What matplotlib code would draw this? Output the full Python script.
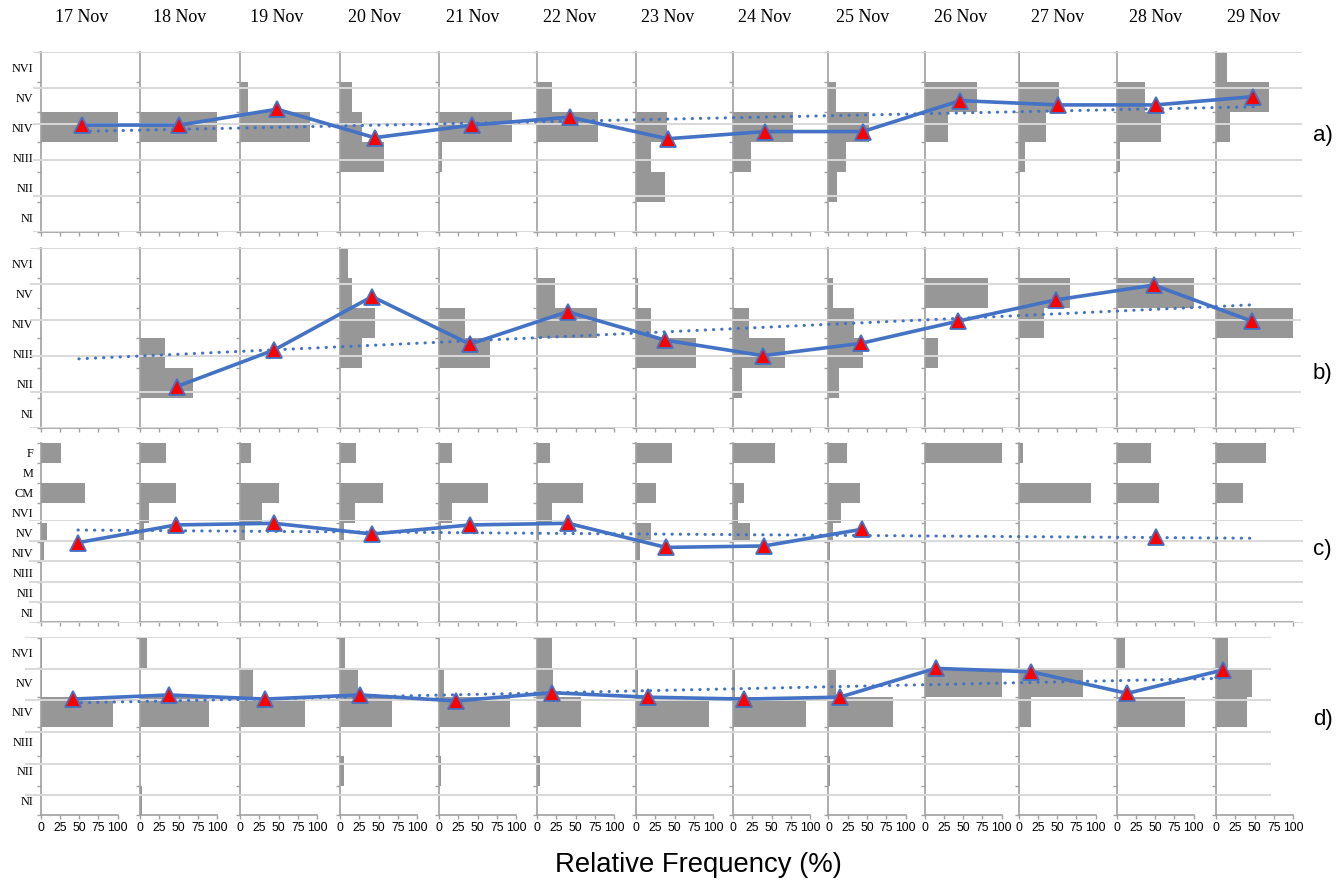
import matplotlib.pyplot as plt
import numpy as np

W, H = 1344, 883

days = ["17 Nov", "18 Nov", "19 Nov", "20 Nov", "21 Nov", "22 Nov", "23 Nov",
        "24 Nov", "25 Nov", "26 Nov", "27 Nov", "28 Nov", "29 Nov"]

# classes listed top to bottom as they appear on the y axis
levels = ["NVI", "NV", "NIV", "NIII", "NII", "NI"]
levels_c = ["F", "M", "CM", "NVI", "NV", "NIV", "NIII", "NII", "NI"]

# relative frequency (%) of each class, one list per day
freq_a = [
    [0, 0, 100, 0, 0, 0],
    [0, 0, 100, 0, 0, 0],
    [0, 10, 90, 0, 0, 0],
    [0, 16, 28, 57, 0, 0],
    [0, 0, 95, 4, 0, 0],
    [0, 20, 79, 0, 0, 0],
    [0, 0, 40, 20, 38, 0],
    [0, 0, 77, 23, 0, 0],
    [0, 10, 53, 23, 11, 0],
    [0, 68, 30, 0, 0, 0],
    [2, 52, 36, 9, 0, 0],
    [0, 37, 58, 4, 0, 0],
    [14, 68, 18, 0, 0, 0],
]
freq_b = [
    [0, 0, 0, 0, 0, 0],
    [0, 0, 0, 32, 68, 0],
    [0, 0, 0, 0, 0, 0],
    [10, 16, 45, 29, 0, 0],
    [0, 0, 34, 66, 0, 0],
    [0, 23, 77, 0, 0, 0],
    [0, 3, 19, 77, 0, 0],
    [0, 0, 21, 67, 12, 0],
    [0, 6, 33, 45, 14, 0],
    [0, 82, 0, 18, 0, 0],
    [0, 67, 33, 0, 0, 0],
    [0, 100, 0, 0, 0, 0],
    [0, 0, 100, 0, 0, 0],
]
freq_c = [
    [26, 0, 57, 0, 8, 4, 0, 0, 0],
    [33, 0, 47, 12, 5, 0, 0, 0, 0],
    [14, 0, 51, 29, 7, 0, 0, 0, 0],
    [21, 0, 55, 19, 5, 0, 0, 0, 0],
    [17, 0, 64, 17, 2, 0, 0, 0, 0],
    [17, 0, 59, 20, 2, 0, 0, 0, 0],
    [46, 0, 26, 0, 19, 5, 0, 0, 0],
    [54, 0, 14, 7, 22, 0, 0, 0, 0],
    [24, 0, 41, 16, 6, 2, 0, 0, 0],
    [100, 0, 0, 0, 0, 0, 0, 0, 0],
    [6, 0, 94, 0, 0, 0, 0, 0, 0],
    [45, 0, 55, 0, 0, 0, 0, 0, 0],
    [65, 0, 35, 0, 0, 0, 0, 0, 0],
]
freq_d = [
    [2, 2, 94, 2, 0, 0],
    [9, 0, 89, 0, 0, 2],
    [0, 17, 84, 0, 0, 0],
    [6, 23, 67, 0, 5, 0],
    [0, 6, 92, 0, 3, 0],
    [19, 21, 57, 0, 4, 0],
    [0, 3, 94, 0, 0, 0],
    [0, 3, 95, 0, 0, 0],
    [0, 10, 84, 0, 2, 0],
    [0, 100, 0, 0, 0, 0],
    [0, 84, 16, 0, 0, 0],
    [11, 0, 89, 0, 0, 0],
    [15, 47, 40, 0, 0, 0],
]

# daily index plotted over each row (nan = no value)
index_a = [2.97, 2.97, 3.41, 2.62, 2.97, 3.19, 2.59, 2.79, 2.79, 3.65, 3.53, 3.53, 3.76]
index_b = [np.nan, 1.15, 2.17, 3.65, 2.33, 3.23, 2.44, 2.01, 2.35, 2.97, 3.56, 3.97, 2.97]
index_c = [3.90, 4.76, 4.84, 4.32, 4.76, 4.84, 3.67, 3.74, 4.55, np.nan, np.nan, 4.19, np.nan]
index_d = [4.04, 4.17, 4.04, 4.17, 3.98, 4.24, 4.10, 4.04, 4.10, 5.01, 4.90, 4.22, 4.96]

panels = ["a)", "b)", "c)", "d)"]

GRAY = "#979797"
AXC = "#a0a0a0"
GRID = "#d9d9d9"
BLUE = "#4472C4"

# layout in pixels
col_x = [40.5, 140, 240, 340, 439, 537, 636, 733, 828.5, 924.5, 1018.5, 1116.5, 1216]
col_w = 77.3
rows = [
    dict(freq=freq_a, cats=levels, top=52, bot=232, idx=index_a,
         grid=(33, 52, 1302, 232), ymax=5, gticks=range(0, 6), lab_y=136),
    dict(freq=freq_b, cats=levels, top=248, bot=428, idx=index_b,
         grid=(30, 248, 1300.5, 428), ymax=5, gticks=range(0, 6), lab_y=373),
    dict(freq=freq_c, cats=levels_c, top=443, bot=622, idx=index_c,
         grid=(29, 520, 1303, 623), ymax=5, gticks=range(0, 6), lab_y=549),
    dict(freq=freq_d, cats=levels, top=638, bot=815, idx=index_d,
         grid=(25, 637, 1271, 827), ymax=6, gticks=range(1, 7), lab_y=720),
]


def rect(x0, y0, x1, y1):
    return [x0 / W, 1 - y1 / H, (x1 - x0) / W, (y1 - y0) / H]


fig = plt.figure(figsize=(W / 100, H / 100), dpi=100)

for r, row in enumerate(rows):
    n = len(row["cats"])
    ypos = np.arange(n)[::-1]
    last = r == len(rows) - 1

    # one small histogram per day
    for j in range(len(days)):
        ax = fig.add_axes(rect(col_x[j], row["top"], col_x[j] + col_w, row["bot"]))
        ax.barh(ypos, row["freq"][j], height=1.0, color=GRAY, linewidth=0)
        ax.set_xlim(0, 100)
        ax.set_ylim(-0.5, n - 0.5)
        ax.set_xticks([0, 25, 50, 75, 100])
        ax.set_yticks(np.arange(n + 1) - 0.5)
        ax.set_yticklabels([])
        for s in ["top", "right"]:
            ax.spines[s].set_visible(False)
        for s in ["left", "bottom"]:
            ax.spines[s].set_color(AXC)
            ax.spines[s].set_linewidth(1.2)
        ax.tick_params(direction="out", length=3, width=1, color=AXC)
        ax.patch.set_alpha(0)
        if last:
            ax.tick_params(axis="x", labelsize=8.8, pad=2)
            for t in ax.get_xticklabels():
                t.set_fontfamily("Liberation Sans")
        else:
            ax.set_xticklabels([])
        if j == 0:
            ax.set_yticks(ypos, minor=True)
            ax.set_yticklabels(row["cats"], minor=True, fontsize=8.8,
                               fontfamily="Liberation Serif")
            ax.tick_params(axis="y", which="minor", length=0, pad=5)

    # daily index with linear trend over the whole row
    g = row["grid"]
    ov = fig.add_axes(rect(*g))
    ov.patch.set_alpha(0)
    for s in ov.spines.values():
        s.set_visible(False)
    ov.set_xlim(-0.5, len(days) - 0.5)
    ov.set_ylim(0, row["ymax"])
    ov.set_yticks(list(row["gticks"]))
    ov.set_xticks([])
    ov.tick_params(length=0, labelleft=False)
    ov.grid(axis="y", color=GRID, linewidth=1.4)
    ov.set_axisbelow(True)

    x = np.arange(len(days))
    y = np.array(row["idx"], dtype=float)
    ok = ~np.isnan(y)
    coef = np.polyfit(x[ok], y[ok], 1)
    ov.plot([0, len(days) - 1], np.polyval(coef, [0, len(days) - 1]), color=BLUE,
            lw=2.2, linestyle=(0, (0.1, 2.6)), dash_capstyle="round", clip_on=False, zorder=3)
    ov.plot(x, y, color=BLUE, lw=2.6, marker="^", ms=12, mfc="#ff0000", mec=BLUE,
            mew=1.3, clip_on=False, zorder=4)

    if r == 0:
        for j, d in enumerate(days):
            ov.text(j, 1 + (g[1] - 18) / (g[3] - g[1]), d, transform=ov.get_xaxis_transform(),
                    ha="center", va="center", fontsize=13, fontfamily="Liberation Serif")

    fig.text(1313 / W, 1 - row["lab_y"] / H, panels[r], ha="left", va="center",
             fontsize=16, fontfamily="Liberation Sans")

fig.text(698 / W, 1 - 865 / H, "Relative Frequency (%)", ha="center", va="center",
         fontsize=19.8, fontfamily="Liberation Sans")

fig.savefig("out.png", dpi=100)
